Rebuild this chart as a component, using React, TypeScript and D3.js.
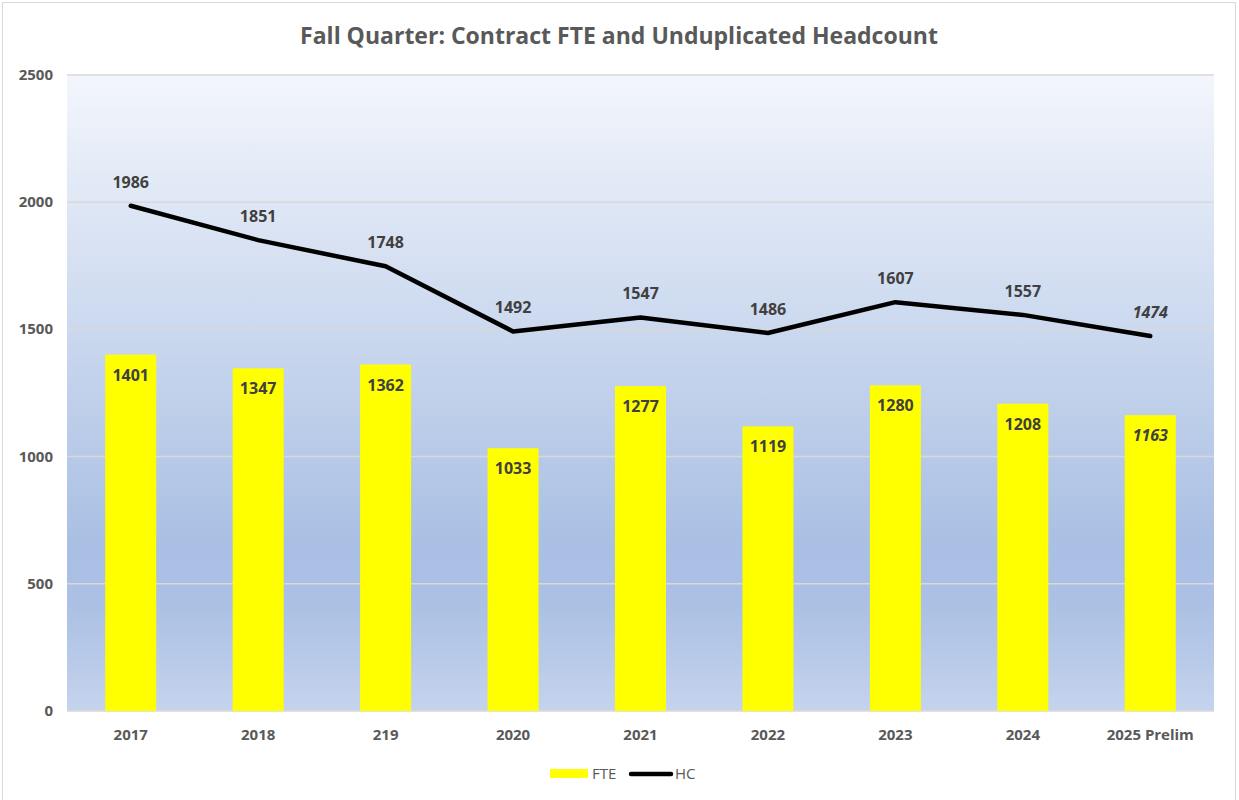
import React from "react";
import * as d3 from "d3";

const categories = ["2017", "2018", "219", "2020", "2021", "2022", "2023", "2024", "2025 Prelim"];
const fteValues = [1401, 1347, 1362, 1033, 1277, 1119, 1280, 1208, 1163];
const hcValues = [1986, 1851, 1748, 1492, 1547, 1486, 1607, 1557, 1474];
const yTicks = [0, 500, 1000, 1500, 2000, 2500];
const italicIndex = [8];

const W = 1239;
const H = 800;
const M = { left: 67, right: 1214, top: 75, bottom: 711 };
const FONT = "'Open Sans', 'Liberation Sans', sans-serif";

export default function App() {
  const x = d3.scaleBand<string>().domain(categories).range([M.left, M.right]).paddingInner(0.6).paddingOuter(0.3);
  const xc = (c: string) => (x(c) as number) + x.bandwidth() / 2;
  const y = d3.scaleLinear().domain([0, 2500]).range([M.bottom, M.top]);
  const line = d3.line<number>().x((_, i) => xc(categories[i])).y((v) => y(v));

  return (
    <svg width={W} height={H} style={{ position: "absolute", left: 0, top: 0 }} fontFamily={FONT}>
      <defs>
        <linearGradient id="bg" x1="0" y1="0" x2="0" y2="1">
          <stop offset="0%" stopColor="#f3f6fc" />
          <stop offset="74%" stopColor="#a9bfe3" />
          <stop offset="83%" stopColor="#abc0e4" />
          <stop offset="100%" stopColor="#c5d3ed" />
        </linearGradient>
      </defs>
      <rect x={0} y={0} width={W} height={H} fill="#ffffff" />
      <rect x={2.5} y={2.5} width={1233} height={805} fill="none" stroke="#d9d9d9" strokeWidth={1} />
      <text x={619} y={44} textAnchor="middle" fontSize={23} fontWeight="bold" fill="#595959">
        Fall Quarter: Contract FTE and Unduplicated Headcount
      </text>
      <rect x={M.left} y={M.top} width={M.right - M.left} height={M.bottom - M.top} fill="url(#bg)" />
      {yTicks.map((t) => (
        <g key={t}>
          <line x1={M.left} x2={M.right} y1={y(t)} y2={y(t)} stroke="#d9d9d9" strokeWidth={1.5} />
          <text x={53} y={y(t) + 5} textAnchor="end" fontSize={15} fontWeight="bold" fill="#595959">
            {t}
          </text>
        </g>
      ))}
      {categories.map((c, i) => (
        <g key={c}>
          <rect x={x(c)} y={y(fteValues[i])} width={x.bandwidth()} height={y(0) - y(fteValues[i])} fill="#ffff00" />
          <text
            x={xc(c)}
            y={y(fteValues[i]) + 26}
            textAnchor="middle"
            fontSize={16}
            fontWeight="bold"
            fontStyle={italicIndex.includes(i) ? "italic" : "normal"}
            fill="#404040"
          >
            {fteValues[i]}
          </text>
          <text x={xc(c)} y={740} textAnchor="middle" fontSize={15} fontWeight="bold" fill="#595959">
            {c}
          </text>
        </g>
      ))}
      <path d={line(hcValues) as string} fill="none" stroke="#000000" strokeWidth={4.5} strokeLinecap="round" strokeLinejoin="round" />
      {categories.map((c, i) => (
        <text
          key={"hc" + c}
          x={xc(c)}
          y={y(hcValues[i]) - 18}
          textAnchor="middle"
          fontSize={16}
          fontWeight="bold"
          fontStyle={italicIndex.includes(i) ? "italic" : "normal"}
          fill="#404040"
        >
          {hcValues[i]}
        </text>
      ))}
      <g>
        <rect x={550} y={769} width={38} height={9} fill="#ffff00" />
        <text x={592} y={779} fontSize={15} fill="#595959">FTE</text>
        <line x1={631} x2={671} y1={774} y2={774} stroke="#000" strokeWidth={4.5} strokeLinecap="round" />
        <text x={675} y={779} fontSize={15} fill="#595959">HC</text>
      </g>
    </svg>
  );
}
